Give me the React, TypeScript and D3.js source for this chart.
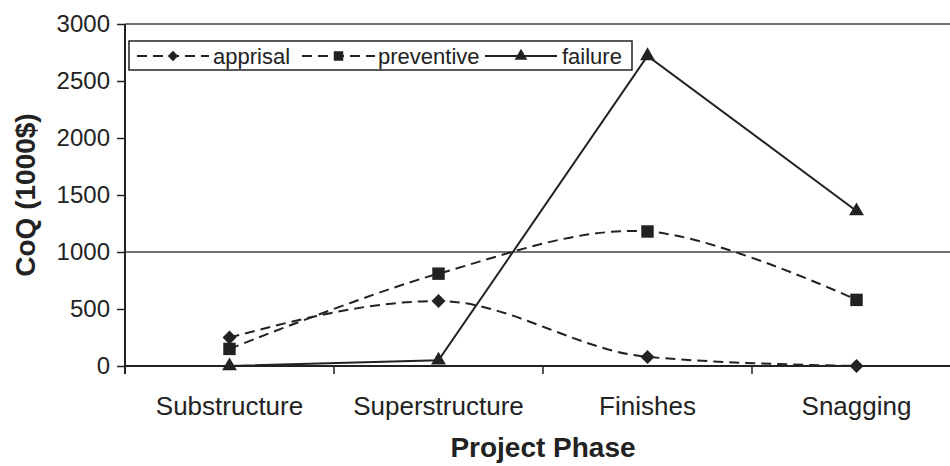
import React, { useEffect, useRef } from 'react';
import * as d3 from 'd3';

const phases = ['Substructure', 'Superstructure', 'Finishes', 'Snagging'];
const apprisal = [250, 570, 80, 0];
const preventive = [150, 810, 1180, 580];
const failure = [0, 50, 2720, 1360];
const yTicks = [0, 500, 1000, 1500, 2000, 2500, 3000];
const gridValues = [1000];

const W = 950;
const H = 466;
const FONT = '"Liberation Sans", Arial, sans-serif';
const INK = '#222';

export default function App() {
  const svgRef = useRef<SVGSVGElement>(null);

  useEffect(() => {
    if (!svgRef.current) return;
    const svg = d3.select(svgRef.current);
    svg.selectAll('*').remove();

    const left = 125;
    const right = 961;
    const top = 24;
    const bottom = 366;

    const x = d3.scalePoint<string>().domain(phases).range([left, right]).padding(0.5);
    const xBand = d3.scaleBand<string>().domain(phases).range([left, right]);
    const y = d3.scaleLinear().domain([0, 3000]).range([bottom, top]);

    // top border + gridline
    svg.append('line')
      .attr('x1', left).attr('x2', right)
      .attr('y1', y(3000)).attr('y2', y(3000))
      .attr('stroke', '#444').attr('stroke-width', 1.5);
    svg.selectAll('.grid')
      .data(gridValues)
      .enter().append('line')
      .attr('x1', left).attr('x2', right)
      .attr('y1', d => y(d)).attr('y2', d => y(d))
      .attr('stroke', '#444').attr('stroke-width', 1.5);

    // y axis
    const yAxis = svg.append('g')
      .attr('transform', `translate(${left},0)`)
      .call(d3.axisLeft(y).tickValues(yTicks).tickSize(8).tickPadding(7).tickFormat(d => String(d)));
    yAxis.select('.domain').remove();
    yAxis.selectAll('line').attr('stroke', INK).attr('stroke-width', 1.5);
    yAxis.selectAll('text')
      .attr('fill', INK)
      .style('font-family', FONT)
      .style('font-size', '24px');
    svg.append('line')
      .attr('x1', left).attr('x2', left)
      .attr('y1', top).attr('y2', bottom + 8)
      .attr('stroke', INK).attr('stroke-width', 2);

    // x axis
    svg.append('line')
      .attr('x1', left).attr('x2', right)
      .attr('y1', bottom).attr('y2', bottom)
      .attr('stroke', INK).attr('stroke-width', 2);
    svg.selectAll('.xtick')
      .data(phases.slice(1))
      .enter().append('line')
      .attr('x1', d => xBand(d) || 0).attr('x2', d => xBand(d) || 0)
      .attr('y1', bottom).attr('y2', bottom + 8)
      .attr('stroke', INK).attr('stroke-width', 1.5);
    svg.selectAll('.xlabel')
      .data(phases)
      .enter().append('text')
      .attr('x', d => x(d) || 0)
      .attr('y', 415)
      .attr('text-anchor', 'middle')
      .attr('fill', INK)
      .style('font-family', FONT)
      .style('font-size', '26px')
      .text(d => d);

    // axis titles
    svg.append('text')
      .attr('x', (left + right) / 2)
      .attr('y', 457)
      .attr('text-anchor', 'middle')
      .attr('fill', INK)
      .style('font-family', FONT)
      .style('font-size', '28px')
      .style('font-weight', 'bold')
      .text('Project Phase');
    svg.append('text')
      .attr('transform', `translate(35,${(top + bottom) / 2}) rotate(-90)`)
      .attr('text-anchor', 'middle')
      .attr('fill', INK)
      .style('font-family', FONT)
      .style('font-size', '28px')
      .style('font-weight', 'bold')
      .text('CoQ (1000$)');

    const series = [
      { name: 'apprisal', values: apprisal, dash: '10,6', curve: d3.curveMonotoneX, symbol: d3.symbolDiamond2, size: 125, lsize: 70 },
      { name: 'preventive', values: preventive, dash: '10,6', curve: d3.curveCatmullRom.alpha(0), symbol: d3.symbolSquare, size: 155, lsize: 90 },
      { name: 'failure', values: failure, dash: null as string | null, curve: d3.curveLinear, symbol: d3.symbolTriangle, size: 95, lsize: 70 },
    ];

    series.forEach(s => {
      const line = d3.line<number>()
        .x((_, i) => x(phases[i]) || 0)
        .y(d => y(d))
        .curve(s.curve);
      svg.append('path')
        .datum(s.values)
        .attr('d', line)
        .attr('fill', 'none')
        .attr('stroke', INK)
        .attr('stroke-width', 2)
        .attr('stroke-dasharray', s.dash);
      svg.selectAll(`.m-${s.name}`)
        .data(s.values)
        .enter().append('path')
        .attr('transform', (d, i) => `translate(${x(phases[i])},${y(d)})`)
        .attr('d', d3.symbol().type(s.symbol).size(s.size)())
        .attr('fill', INK);
    });

    // legend
    const lg = svg.append('g');
    lg.append('rect')
      .attr('x', 129).attr('y', 41)
      .attr('width', 503).attr('height', 29)
      .attr('fill', 'white')
      .attr('stroke', INK).attr('stroke-width', 1.5);
    const legendItems = [
      { s: series[0], x0: 137, x1: 209, tx: 213 },
      { s: series[1], x0: 302, x1: 375, tx: 378 },
      { s: series[2], x0: 485, x1: 557, tx: 562 },
    ];
    legendItems.forEach(it => {
      lg.append('line')
        .attr('x1', it.x0).attr('x2', it.x1)
        .attr('y1', 56).attr('y2', 56)
        .attr('stroke', INK).attr('stroke-width', 2)
        .attr('stroke-dasharray', it.s.dash);
      lg.append('path')
        .attr('transform', `translate(${(it.x0 + it.x1) / 2},56)`)
        .attr('d', d3.symbol().type(it.s.symbol).size(it.s.lsize)())
        .attr('fill', INK);
      lg.append('text')
        .attr('x', it.tx).attr('y', 64)
        .attr('fill', INK)
        .style('font-family', FONT)
        .style('font-size', '22px')
        .text(it.s.name);
    });
  }, []);

  return (
    <svg
      ref={svgRef}
      width={W}
      height={H}
      style={{ position: 'absolute', left: 0, top: 0, background: 'white' }}
    />
  );
}
